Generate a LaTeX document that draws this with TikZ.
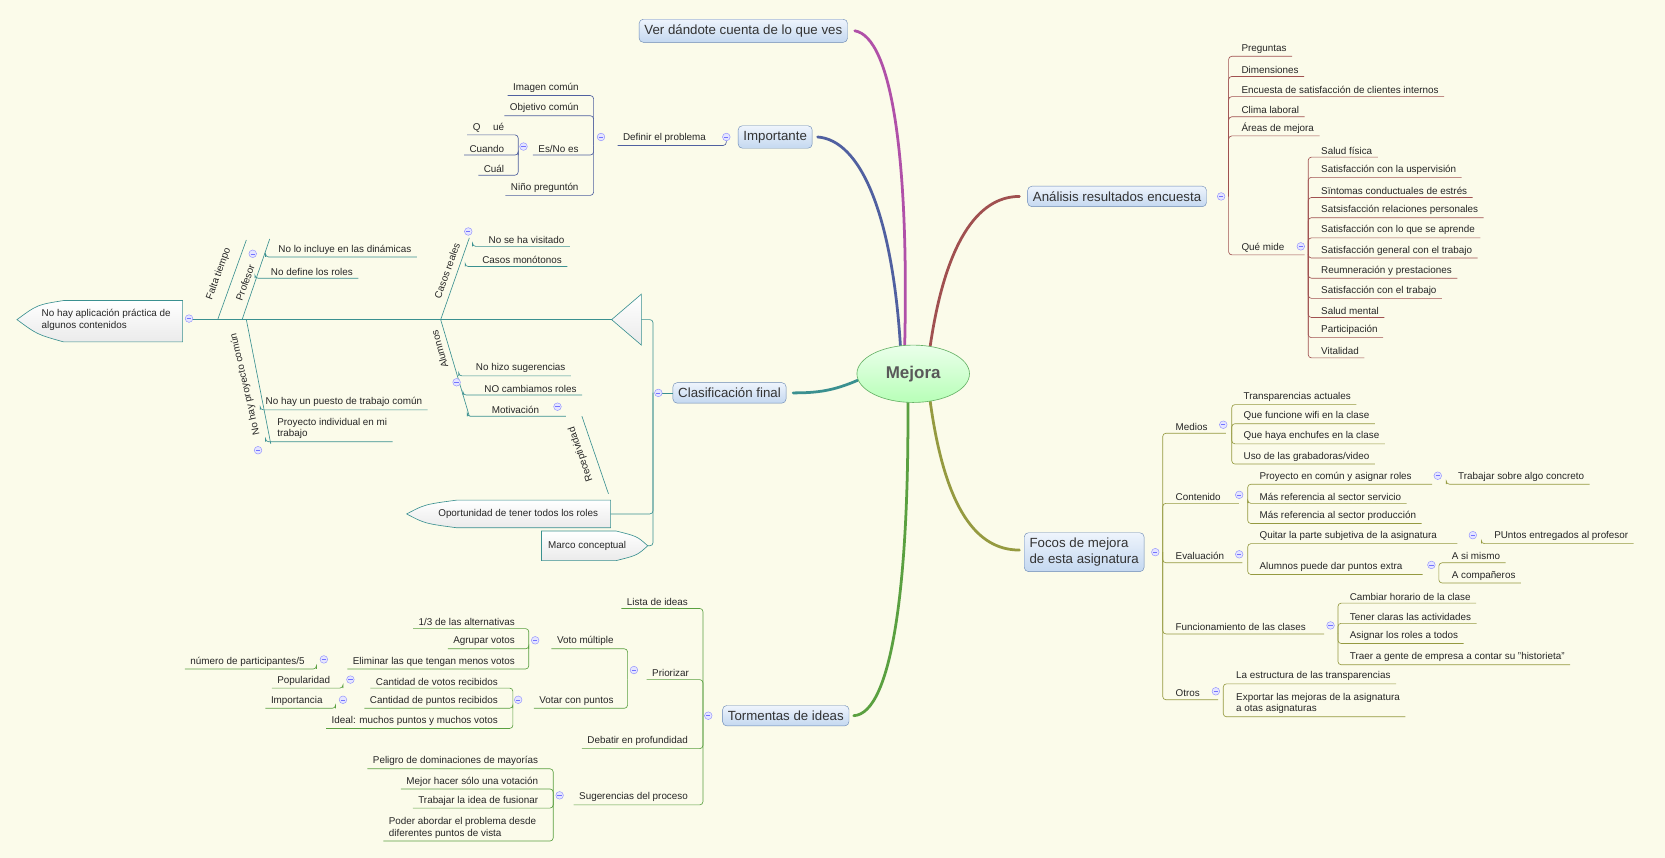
\documentclass[tikz,border=0pt]{standalone}
\usepackage{fontspec}
\setmainfont{Liberation Sans}
\usetikzlibrary{calc,shapes.geometric}
\definecolor{bgc}{HTML}{FBFBEA}
\definecolor{brc}{HTML}{A05050}
\definecolor{blc}{HTML}{5060A0}
\definecolor{tlc}{HTML}{3A9090}
\definecolor{olc}{HTML}{959A40}
\definecolor{grc}{HTML}{5AA040}
\definecolor{puc}{HTML}{B050A8}
\definecolor{mbd}{HTML}{6A88B4}
\definecolor{mtop}{HTML}{EEF4FC}
\definecolor{mbot}{HTML}{C4D8F0}
\tikzset{
 leaf/.style={font=\fontsize{9.3}{11}\selectfont,inner xsep=0pt,inner ysep=2.5pt,text=black!85,align=left},
 main/.style={rounded corners=4pt,draw=mbd,top color=mtop,bottom color=mbot,font=\fontsize{12.5}{15}\selectfont,text=black!80,inner sep=5pt,align=left},
 branch/.style={line width=2.6pt,line cap=round},
 bone/.style={tlc,line width=0.6pt},
 bonetxt/.style={font=\fontsize{9.3}{11}\selectfont,text=black!85,inner sep=0pt},
 headshape/.style={draw=tlc,top color=white,bottom color=black!8,line width=0.6pt}
}
\newcommand\RL[7]{\node[leaf,anchor=south west] (#2) at (#5,#6) {#7};
 \draw[#1,rounded corners=3pt,line width=0.6pt] (#3,#4) |- ($(#2.south east)+(5pt,0)$);}
\newcommand\LL[7]{\node[leaf,anchor=south east] (#2) at (#5,#6) {#7};
 \draw[#1,rounded corners=3pt,line width=0.6pt] (#3,#4) |- ($(#2.south west)+(-5pt,0)$);}
\newcommand\cc[2]{\draw[blue!45,fill=blue!10,line width=0.4pt] (#1,#2) circle (3.6pt);
 \draw[blue!55,line width=0.5pt] (#1-2,#2) -- (#1+2,#2);}
\begin{document}
\begin{tikzpicture}[x=1pt,y=-1pt]
\fill[bgc] (0,0) rectangle (1568,808);
\useasboundingbox (0,0) rectangle (1568,808);
% branches
\draw[branch,puc] (852,325) .. controls (856,150) and (840,35) .. (805,29);
\draw[branch,blc] (848,326) .. controls (840,200) and (810,132) .. (770,129);
\draw[branch,brc] (876,326) .. controls (890,230) and (920,185) .. (960,185);
\draw[branch,tlc] (808,358) .. controls (785,368) and (770,370) .. (747,370);
\draw[branch,olc] (876,378) .. controls (890,480) and (920,518) .. (960,518);
\draw[branch,grc] (855,379) .. controls (856,550) and (840,672) .. (804,674);
% center
\node[ellipse,draw=green!50!black!60,line width=0.6pt,top color=green!8,bottom color=green!28,minimum width=106pt,minimum height=54pt,font=\fontsize{16}{18}\selectfont\bfseries,text=black!65,inner sep=0pt] (mej) at (860,352) {Mejora};
% main topics
\node[main] (ver) at (700,29) {Ver dándote cuenta de lo que ves};
\node[main] (imp) at (730,129) {Importante};
\node[main] (ana) at (1052,185) {Análisis resultados encuesta};
\node[main] (cla) at (687,370) {Clasificación final};
\node[main] (foc) at (1021,520) {Focos de mejora\\de esta asignatura};
\node[main] (tor) at (740,674) {Tormentas de ideas};

% ---- Importante
\LL{blc}{dp}{684}{129}{665}{137}{Definir el problema}
\LL{blc}{ic}{559}{137}{545}{90}{Imagen común}
\LL{blc}{oc}{559}{137}{545}{109}{Objetivo común}
\LL{blc}{es}{559}{137}{545}{146}{Es/No es}
\LL{blc}{np}{559}{137}{545}{184}{Niño preguntón}
\LL{blc}{qu}{488}{146}{475}{127}{Q\hspace{12pt}ué}
\LL{blc}{cu}{488}{146}{475}{146}{Cuando}
\LL{blc}{cl}{488}{146}{475}{165}{Cuál}
\cc{684}{129}\cc{566}{129}\cc{493}{138}

% ---- Análisis
\RL{brc}{pr}{1157}{185}{1169}{53}{Preguntas}
\RL{brc}{di}{1157}{185}{1169}{72}{Dimensiones}
\RL{brc}{en}{1157}{185}{1169}{91}{Encuesta de satisfacción de clientes internos}
\RL{brc}{cli}{1157}{185}{1169}{110}{Clima laboral}
\RL{brc}{ar}{1157}{185}{1169}{128}{Áreas de mejora}
\RL{brc}{qm}{1157}{185}{1169}{240}{Qué mide\hspace{14pt}}
\RL{brc}{q1}{1232}{240}{1244}{148}{Salud física}
\RL{brc}{q2}{1232}{240}{1244}{167}{Satisfacción con la uspervisión}
\RL{brc}{q3}{1232}{240}{1244}{186}{Sïntomas conductuales de estrés}
\RL{brc}{q4}{1232}{240}{1244}{205}{Satsisfacción relaciones personales}
\RL{brc}{q5}{1232}{240}{1244}{224}{Satisfacción con lo que se aprende}
\RL{brc}{q6}{1232}{240}{1244}{243}{Satisfacción general con el trabajo}
\RL{brc}{q7}{1232}{240}{1244}{262}{Reumneración y prestaciones}
\RL{brc}{q8}{1232}{240}{1244}{281}{Satisfacción con el trabajo}
\RL{brc}{q9}{1232}{240}{1244}{299}{Salud mental}
\RL{brc}{q10}{1232}{240}{1244}{318}{Participación}
\RL{brc}{q11}{1232}{240}{1244}{337}{Vitalidad}
\cc{1150}{185}\cc{1225}{232}

% ---- Clasificación final (fishbone)
\coordinate (tip) at (576,301);
\draw[headshape] (604,277) -- (tip) -- (604,325) -- cycle;
\draw[headshape] (172,283) -- (60,283) .. controls (35,287) .. (16,301) .. controls (35,315) .. (60,322) -- (172,322) -- cycle;
\node[leaf] (nha) at (100,301) {No hay aplicación práctica de\\algunos contenidos};
\draw[bone] (181,301) -- (tip);
\draw[headshape] (575,471) -- (430,471) .. controls (400,475) .. (383,484) .. controls (400,493) .. (430,497) -- (575,497) -- cycle;
\node[leaf] (opo) at (488,484) {Oportunidad de tener todos los roles};
\draw[headshape] (510,500) -- (580,500) .. controls (600,505) .. (610,514) .. controls (600,523) .. (580,528) -- (510,528) -- cycle;
\node[leaf] (mar) at (553,514) {Marco conceptual};
\draw[bone,rounded corners=3pt] (615,370) |- (604,301);
\draw[bone,rounded corners=3pt] (615,370) |- (575,484);
\draw[bone,rounded corners=3pt] (615,370) |- (610,514);
\draw[bone] (622,370) -- (cla.west);
\cc{620}{370}\cc{178}{300}
% bones
\draw[bone] (205,301) -- (232,226);
\node[bonetxt,rotate=70] (ft) at (206,258) {Falta tiempo};
\draw[bone] (228,301) -- (254,225);
\node[bonetxt,rotate=70] (pf) at (231,266) {Profesor};
\cc{238}{239}
\RL{tlc}{p1}{250}{242}{262}{242}{No lo incluye en las dinámicas}
\RL{tlc}{p2}{240}{262}{255}{262}{No define los roles}
\draw[bone] (415,301) -- (442,224);
\node[bonetxt,rotate=70] (cr) at (421,255) {Casos reales};
\cc{441}{218}
\RL{tlc}{c1}{445}{232}{460}{232}{No se ha visitado}
\RL{tlc}{c2}{438}{251}{454}{251}{Casos monótonos}
\draw[bone] (415,301) -- (442,392);
\node[bonetxt,rotate=106] (alu) at (414,329) {Alumnos};
\cc{430}{360}
\RL{tlc}{a1}{432}{354}{448}{354}{No hizo sugerencias}
\RL{tlc}{a2}{436}{372}{456}{372}{NO cambiamos roles}
\RL{tlc}{a3}{440}{392}{463}{392}{Motivación\hspace{20pt}}
\cc{525}{383}
\draw[bone] (548,392) -- (573,465);
\node[bonetxt,rotate=109] (rec) at (547,428) {Receptividad};
\draw[bone] (232,301) -- (255,418);
\node[bonetxt,rotate=103] (nhp) at (231,362) {No hay proyecto común};
\cc{243}{424}
\RL{tlc}{n1}{245}{386}{250}{386}{No hay un puesto de trabajo común}
\RL{tlc}{n2}{250}{416}{261}{416}{Proyecto individual en mi\\trabajo}

% ---- Focos
\RL{olc}{me}{1095}{520}{1107}{408}{Medios\hspace{12pt}}
\RL{olc}{m1}{1160}{408}{1171}{381}{Transparencias actuales}
\RL{olc}{m2}{1160}{408}{1171}{399}{Que funcione wifi en la clase}
\RL{olc}{m3}{1160}{408}{1171}{418}{Que haya enchufes en la clase}
\RL{olc}{m4}{1160}{408}{1171}{437}{Uso de las grabadoras/video}
\RL{olc}{co}{1095}{520}{1107}{474}{Contenido\hspace{12pt}}
\RL{olc}{k1}{1175}{474}{1186}{456}{Proyecto en común y asignar roles\hspace{14pt}}
\RL{olc}{k1a}{1362}{456}{1373}{456}{Trabajar sobre algo concreto}
\RL{olc}{k2}{1175}{474}{1186}{474}{Más referencia al sector servicio}
\RL{olc}{k3}{1175}{474}{1186}{493}{Más referencia al sector producción}
\RL{olc}{ev}{1095}{520}{1107}{530}{Evaluación\hspace{12pt}}
\RL{olc}{e1}{1175}{530}{1186}{512}{Quitar la parte subjetiva de la asignatura\hspace{14pt}}
\RL{olc}{e1a}{1395}{512}{1407}{512}{PUntos entregados al profesor}
\RL{olc}{e2}{1175}{530}{1186}{541}{Alumnos puede dar puntos extra\hspace{14pt}}
\RL{olc}{e2a}{1355}{541}{1367}{530}{A si mismo}
\RL{olc}{e2b}{1355}{541}{1367}{549}{A compañeros}
\RL{olc}{fu}{1095}{520}{1107}{597}{Funcionamiento de las clases\hspace{12pt}}
\RL{olc}{f1}{1260}{597}{1271}{568}{Cambiar horario de la clase}
\RL{olc}{f2}{1260}{597}{1271}{587}{Tener claras las actividades}
\RL{olc}{f3}{1260}{597}{1271}{606}{Asignar los roles a todos}
\RL{olc}{f4}{1260}{597}{1271}{626}{Traer a gente de empresa a contar su "historieta"}
\RL{olc}{ot}{1095}{520}{1107}{659}{Otros\hspace{12pt}}
\RL{olc}{o1}{1152}{659}{1164}{644}{La estructura de las transparencias}
\RL{olc}{o2}{1152}{659}{1164}{675}{Exportar las mejoras de la asignatura\\a otas asignaturas}
\cc{1088}{520}\cc{1152}{400}\cc{1167}{466}\cc{1354}{448}\cc{1167}{522}\cc{1387}{504}\cc{1348}{532}\cc{1253}{589}\cc{1145}{651}

% ---- Tormentas
\LL{grc}{li}{662}{674}{648}{573}{Lista de ideas}
\LL{grc}{pz}{662}{674}{649}{640}{Priorizar}
\LL{grc}{vm}{591}{640}{578}{611}{Voto múltiple}
\LL{grc}{v1}{498}{611}{485}{592}{1/3 de las alternativas}
\LL{grc}{v2}{498}{611}{485}{611}{Agrupar votos}
\LL{grc}{v3}{498}{611}{485}{630}{Eliminar las que tengan menos votos}
\LL{grc}{v3a}{298}{630}{287}{630}{número de participantes/5}
\LL{grc}{vp}{591}{640}{578}{667}{Votar con puntos}
\LL{grc}{w1}{483}{667}{469}{648}{Cantidad de votos recibidos}
\LL{grc}{w1a}{323}{648}{311}{648}{Popularidad}
\LL{grc}{w2}{483}{667}{469}{667}{Cantidad de puntos recibidos}
\LL{grc}{w2a}{316}{667}{304}{667}{Importancia}
\LL{grc}{w3}{483}{667}{469}{686}{Ideal: muchos puntos y muchos votos}
\LL{grc}{de}{662}{674}{648}{705}{Debatir en profundidad}
\LL{grc}{su}{662}{674}{648}{758}{Sugerencias del proceso}
\LL{grc}{s1}{521}{758}{507}{724}{Peligro de dominaciones de mayorías}
\LL{grc}{s2}{521}{758}{507}{743}{Mejor hacer sólo una votación}
\LL{grc}{s3}{521}{758}{507}{761}{Trabajar la idea de fusionar}
\LL{grc}{s4}{521}{758}{505}{792}{Poder abordar el problema desde\\diferentes puntos de vista}
\cc{667}{674}\cc{597}{631}\cc{504}{603}\cc{305}{621}\cc{488}{659}\cc{330}{640}\cc{323}{659}\cc{527}{749}
\end{tikzpicture}
\end{document}
